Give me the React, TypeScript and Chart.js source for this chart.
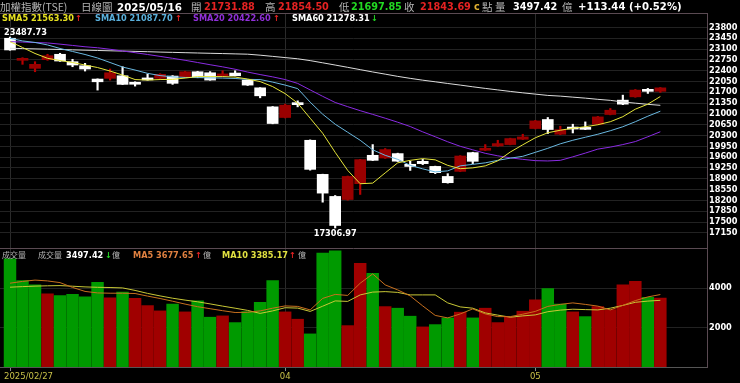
import React, { useEffect, useRef } from 'react';
import { Chart, registerables } from 'chart.js';

Chart.register(...registerables);

// ---------- data ----------
const LAST_DATE = '2025/05/16';
const DATE_TICKS = [0, 22, 42];
const DATE_LABELS = ['2025/02/27', '04', '05'];
const PRICE_TICKS = [17150, 17500, 17850, 18200, 18550, 18900, 19250, 19600, 19950, 20300, 20650, 21000, 21350, 21700, 22050, 22400, 22750, 23100, 23450, 23800];
const VOL_TICKS = [2000, 4000];

const OPEN = [23449, 22735, 22475, 22755, 22930, 22690, 22560, 22128, 22151, 22235, 21990, 22130, 22151, 22225, 22203, 22365, 22332, 22230, 22323, 22095, 21845, 21229, 20884, 21360, 20147, 19044, 18330, 18230, 18742, 19661, 19573, 19716, 19370, 19466, 19302, 18977, 19141, 19748, 19823, 19963, 20008, 20180, 20527, 20819, 20342, 20570, 20560, 20666, 20981, 21446, 21553, 21771, 21731.88];
const HIGH = [23487.73, 22819, 22690, 22930, 22962, 22768, 22638, 22135, 22453, 22527, 22040, 22290, 22300, 22240, 22380, 22380, 22370, 22397, 22397, 22100, 21850, 21240, 21316, 21424, 20160, 19050, 18360, 18990, 19530, 20008, 19880, 19730, 19470, 19530, 19310, 19067, 19650, 19760, 20008, 20147, 20215, 20342, 20790, 20884, 20602, 20667, 20742, 20920, 21176, 21608, 21790, 21826, 21854.5];
const LOW = [23060, 22605, 22365, 22735, 22700, 22527, 22388, 21771, 22095, 21950, 21900, 22090, 22140, 21956, 22190, 22170, 22090, 22203, 22230, 21920, 21521, 20680, 20870, 21229, 19180, 18144, 17306.97, 18210, 18394, 19490, 19560, 19460, 19172, 19360, 19067, 18760, 19130, 19391, 19810, 19950, 20000, 20170, 20515, 20365, 20330, 20384, 20490, 20650, 20970, 21300, 21540, 21663, 21697.85];
const CLOSE = [23070, 22768, 22605, 22884, 22712, 22583, 22453, 22040, 22332, 21956, 21960, 22100, 22281, 21990, 22365, 22183, 22095, 22260, 22235, 21933, 21586, 20690, 21284, 21300, 19206, 18437, 17390, 18977, 19521, 19498, 19846, 19470, 19300, 19391, 19099, 18774, 19638, 19466, 19878, 20040, 20203, 20255, 20774, 20495, 20490, 20510, 20500, 20904, 21120, 21316, 21771, 21730.25, 21843.69];

const SMA5 = [23339, 23151, 22956, 22800, 22728, 22664, 22582, 22501, 22388, 22258, 22112, 22095, 22112, 22118, 22160, 22209, 22209, 22209, 22193, 22128, 22047, 21884, 21657, 21349, 20861, 20374, 19757, 19173, 18741, 18761, 19092, 19417, 19498, 19553, 19514, 19335, 19228, 19254, 19319, 19482, 19767, 20001, 20228, 20391, 20472, 20537, 20585, 20650, 20748, 20910, 21154, 21316, 21563.3];
const SMA10 = [23449, 23362, 23313, 23232, 23118, 23021, 22923, 22810, 22664, 22517, 22420, 22313, 22241, 22199, 22180, 22176, 22167, 22160, 22147, 22118, 22112, 22030, 21933, 21819, 21381, 20991, 20667, 20407, 20147, 19839, 19660, 19530, 19336, 19222, 19124, 19157, 19319, 19368, 19417, 19498, 19569, 19628, 19757, 19887, 20033, 20147, 20245, 20342, 20456, 20585, 20748, 20926, 21087.7];
const SMA20 = [23339, 23326, 23310, 23297, 23258, 23216, 23173, 23141, 23092, 23037, 22982, 22923, 22862, 22800, 22735, 22664, 22592, 22524, 22446, 22355, 22274, 22199, 22112, 21988, 21777, 21569, 21371, 21235, 21105, 20985, 20861, 20732, 20592, 20420, 20261, 20098, 19952, 19839, 19725, 19644, 19579, 19530, 19488, 19478, 19498, 19611, 19732, 19861, 19926, 20008, 20105, 20261, 20422.6];
const SMA60 = [23125, 23115, 23105, 23095, 23086, 23073, 23063, 23053, 23043, 23034, 23024, 23014, 23001, 22992, 22982, 22972, 22962, 22953, 22943, 22933, 22901, 22862, 22823, 22784, 22725, 22654, 22582, 22508, 22433, 22358, 22287, 22215, 22151, 22092, 22040, 21985, 21933, 21878, 21826, 21777, 21728, 21683, 21641, 21599, 21576, 21543, 21511, 21472, 21439, 21387, 21348, 21310, 21278.31];

const VOLUME = [5487, 4386, 4167, 3711, 3624, 3695, 3558, 4304, 3508, 3797, 3492, 3117, 2848, 3188, 2797, 3355, 2528, 2594, 2254, 2812, 3289, 4386, 2797, 2426, 1680, 5777, 5893, 2101, 5269, 4761, 3066, 2985, 2579, 2035, 2152, 2492, 2782, 2492, 2985, 2254, 2528, 2832, 3406, 3980, 3188, 2797, 2558, 3066, 2914, 4167, 4355, 3543, 3497.42];
const VOL_UP = [0, 0, 0, 1, 0, 0, 0, 0, 1, 0, 1, 1, 1, 0, 1, 0, 0, 1, 0, 0, 0, 0, 1, 1, 0, 0, 0, 1, 1, 0, 1, 0, 0, 1, 0, 0, 1, 0, 1, 1, 1, 1, 1, 0, 0, 1, 0, 1, 1, 1, 1, 0, 1];
const VMA5 = [4254, 4345, 4411, 4370, 4284, 4040, 3837, 3761, 3746, 3746, 3731, 3599, 3477, 3340, 3193, 3061, 2959, 2858, 2766, 2777, 2848, 2985, 3101, 3076, 2898, 3482, 3685, 3634, 4254, 4726, 4167, 3914, 3609, 3101, 2619, 2492, 2695, 2949, 2695, 2558, 2558, 2680, 2822, 3076, 3178, 3254, 3178, 3091, 2898, 3127, 3370, 3558, 3677.65];
const VMA10 = [4051, 4081, 4106, 4122, 4132, 4101, 4066, 4046, 4035, 4015, 3888, 3736, 3609, 3492, 3396, 3310, 3203, 3091, 2985, 2873, 2721, 2848, 3010, 2990, 2822, 3086, 3355, 3330, 3660, 3802, 3827, 3787, 3660, 3660, 3660, 3254, 3051, 2985, 2746, 2634, 2528, 2594, 2645, 2807, 2888, 2934, 2914, 2898, 2985, 3127, 3284, 3345, 3385.17];

// ---------- styling ----------
const RED_TXT = '#e42222';
const GREEN_TXT = '#22d822';
const GRAY_TXT = '#b4b4b4';
const NUM_FONT = '"DejaVu Sans", Verdana, sans-serif';
const CJK_FONT = '"Noto Sans CJK TC", "Noto Sans CJK SC", sans-serif';

const last = (a: number[]) => a[a.length - 1];
const prev = (a: number[]) => a[a.length - 2];
const arrowOf = (a: number[]) => (last(a) >= prev(a) ? '↑' : '↓');
const arrowColor = (a: number[]) => (last(a) >= prev(a) ? RED_TXT : GREEN_TXT);

type TxtProps = { x: number; cy: number; color: string; size: number; bold?: boolean; cjk?: boolean; children: React.ReactNode };
function Txt({ x, cy, color, size, bold, cjk, children }: TxtProps) {
  return (
    <span
      style={{
        position: 'absolute',
        left: x,
        top: cy - 7,
        lineHeight: '14px',
        height: 14,
        whiteSpace: 'nowrap',
        color,
        fontSize: size,
        fontWeight: bold ? 'bold' : 'normal',
        fontFamily: cjk ? CJK_FONT : NUM_FONT,
        zIndex: 2,
      }}
    >
      {children}
    </span>
  );
}

export default function App() {
  const priceRef = useRef<HTMLCanvasElement>(null);
  const volRef = useRef<HTMLCanvasElement>(null);

  useEffect(() => {
    if (!priceRef.current || !volRef.current) return;
    const idx = CLOSE.map((_, i) => i);
    const xMin = -0.8;
    const xMax = 55.73;
    const tickFont = { family: NUM_FONT, size: 8.2, weight: 'bold' as const };

    const frameLine = {
      id: 'frameLine',
      afterDraw(chart: any) {
        const { ctx, chartArea } = chart;
        ctx.save();
        ctx.strokeStyle = '#5a4a52';
        ctx.lineWidth = 1;
        const y = Math.round(chartArea.top) + 0.5;
        ctx.beginPath();
        ctx.moveTo(0, y);
        ctx.lineTo(chartArea.right, y);
        ctx.stroke();
        ctx.restore();
      },
    };

    const extremes = {
      id: 'extremes',
      afterDatasetsDraw(chart: any) {
        const { ctx, chartArea, scales } = chart;
        let hi = 0;
        let lo = 0;
        for (let i = 1; i < HIGH.length; i++) {
          if (HIGH[i] > HIGH[hi]) hi = i;
          if (LOW[i] < LOW[lo]) lo = i;
        }
        ctx.save();
        ctx.font = `bold 8.2px ${NUM_FONT}`;
        ctx.fillStyle = '#ffffff';
        ctx.textBaseline = 'alphabetic';
        const t1 = HIGH[hi].toFixed(2);
        const w1 = ctx.measureText(t1).width;
        const x1 = Math.max(chartArea.left + 4, scales.x.getPixelForValue(hi) - w1 / 2);
        ctx.fillText(t1, x1, scales.y.getPixelForValue(HIGH[hi]) - 1.7);
        const t2 = LOW[lo].toFixed(2);
        const w2 = ctx.measureText(t2).width;
        ctx.fillText(t2, scales.x.getPixelForValue(lo) - w2 / 2, scales.y.getPixelForValue(LOW[lo]) + 8.3);
        ctx.restore();
      },
    };

    const dateLabels = {
      id: 'dateLabels',
      afterDraw(chart: any) {
        const { ctx, chartArea, scales } = chart;
        ctx.save();
        ctx.font = `8.5px ${NUM_FONT}`;
        ctx.fillStyle = '#c8c048';
        ctx.textBaseline = 'middle';
        DATE_TICKS.forEach((t, k) => {
          const text = DATE_LABELS[k];
          const w = ctx.measureText(text).width;
          const px = scales.x.getPixelForValue(t);
          const tx = Math.max(chartArea.left + 4, px - w / 2);
          ctx.fillText(text, tx, chartArea.bottom + 10);
        });
        ctx.restore();
      },
    };

    const lineDs = (label: string, values: number[], color: string) => ({
      type: 'line' as const,
      label,
      data: idx.map((i) => ({ x: i, y: values[i] })),
      borderColor: color,
      borderWidth: 1,
      pointRadius: 0,
      tension: 0,
      order: 0,
    });

    const up = idx.map((i) => CLOSE[i] >= OPEN[i]);

    const c1 = new Chart(priceRef.current, {
      type: 'bar',
      data: {
        datasets: [
          lineDs('SMA5', SMA5, '#e6e63a'),
          lineDs('SMA10', SMA10, '#6ab8e0'),
          lineDs('SMA20', SMA20, '#8a2be2'),
          lineDs('SMA60', SMA60, '#dcdcdc'),
          {
            type: 'bar',
            label: 'body',
            data: idx.map((i) => ({ x: i, y: [OPEN[i], CLOSE[i]] })),
            backgroundColor: idx.map((i) => (up[i] ? '#9a0000' : '#ffffff')),
            barThickness: 11,
            minBarLength: 2,
            grouped: false,
            borderWidth: 0,
            order: 1,
          },
          {
            type: 'bar',
            label: 'wick',
            data: idx.map((i) => ({ x: i, y: [LOW[i], HIGH[i]] })),
            backgroundColor: idx.map((i) => (up[i] ? '#b80000' : '#ffffff')),
            barThickness: 1.5,
            grouped: false,
            borderWidth: 0,
            order: 2,
          },
        ] as any,
      },
      options: {
        animation: false,
        responsive: false,
        devicePixelRatio: 1,
        layout: { padding: { left: 0, right: 0, top: 13, bottom: 0 } },
        plugins: { legend: { display: false }, tooltip: { enabled: false } },
        scales: {
          x: {
            type: 'linear',
            min: xMin,
            max: xMax,
            offset: false,
            afterBuildTicks: (s: any) => {
              s.ticks = DATE_TICKS.map((v) => ({ value: v }));
            },
            afterFit: (s: any) => {
              s.height = 0;
              s.paddingLeft = 0;
              s.paddingRight = 0;
            },
            ticks: { display: false },
            grid: { color: '#2a2a2a', drawTicks: false, offset: false },
            border: { display: false },
          },
          y: {
            position: 'right',
            min: 16661,
            max: 24266,
            afterBuildTicks: (s: any) => {
              s.ticks = PRICE_TICKS.map((v) => ({ value: v }));
            },
            afterFit: (s: any) => {
              s.width = 33;
              s.paddingTop = 0;
              s.paddingBottom = 0;
            },
            ticks: { color: '#ffffff', font: tickFont, padding: 2, autoSkip: false, callback: (v: any) => String(v) },
            grid: { color: '#222222', drawTicks: false },
            border: { display: true, color: '#5a4a52' },
          },
        },
      } as any,
      plugins: [frameLine, extremes],
    });

    const c2 = new Chart(volRef.current, {
      type: 'bar',
      data: {
        datasets: [
          lineDs('MA5', VMA5, '#c8701e'),
          lineDs('MA10', VMA10, '#c8c836'),
          {
            type: 'bar',
            label: 'volume',
            data: idx.map((i) => ({ x: i, y: VOLUME[i] })),
            backgroundColor: idx.map((i) => (VOL_UP[i] ? '#a00000' : '#009a00')),
            barThickness: 11.8,
            grouped: false,
            borderWidth: 0,
            order: 1,
          },
        ] as any,
      },
      options: {
        animation: false,
        responsive: false,
        devicePixelRatio: 1,
        layout: { padding: { left: 0, right: 0, top: 8, bottom: 0 } },
        plugins: { legend: { display: false }, tooltip: { enabled: false } },
        scales: {
          x: {
            type: 'linear',
            min: xMin,
            max: xMax,
            offset: false,
            afterBuildTicks: (s: any) => {
              s.ticks = DATE_TICKS.map((v) => ({ value: v }));
            },
            afterFit: (s: any) => {
              s.height = 16;
              s.paddingLeft = 0;
              s.paddingRight = 0;
            },
            ticks: { display: false },
            grid: { color: '#2a2a2a', drawTicks: true, tickLength: 4, tickColor: '#888888', offset: false },
            border: { display: true, color: '#555555' },
          },
          y: {
            position: 'right',
            min: 0,
            max: 6041,
            afterBuildTicks: (s: any) => {
              s.ticks = VOL_TICKS.map((v) => ({ value: v }));
            },
            afterFit: (s: any) => {
              s.width = 33;
              s.paddingTop = 0;
              s.paddingBottom = 0;
            },
            ticks: { color: '#ffffff', font: tickFont, padding: 2, autoSkip: false, callback: (v: any) => String(v) },
            grid: { color: '#222222', drawTicks: false },
            border: { display: true, color: '#5a4a52' },
          },
        },
      } as any,
      plugins: [frameLine, dateLabels],
    });

    return () => {
      c1.destroy();
      c2.destroy();
    };
  }, []);

  const n = CLOSE.length;
  const change = CLOSE[n - 1] - CLOSE[n - 2];
  const pct = (change / CLOSE[n - 2]) * 100;
  const sign = change >= 0 ? '+' : '-';
  const changeText = `${sign}${Math.abs(change).toFixed(2)} (${sign}${Math.abs(pct).toFixed(2)}%)`;

  const r1 = 6.5;
  const r2 = 17.8;
  const r3 = 254.5;
  const P = 9.7; // header price font size

  return (
    <div style={{ position: 'fixed', left: 0, top: 0, width: 740, height: 383, background: '#000', overflow: 'hidden' }}>
      <canvas ref={priceRef} width={740} height={248} style={{ position: 'absolute', left: 0, top: 0, width: 740, height: 248 }} />
      <canvas ref={volRef} width={740} height={143} style={{ position: 'absolute', left: 0, top: 240, width: 740, height: 143 }} />

      {/* header row 1 */}
      <Txt x={0} cy={r1} color={GRAY_TXT} size={10.5} cjk>加權指數(TSE)</Txt>
      <Txt x={81} cy={r1} color={GRAY_TXT} size={10.5} cjk>日線圖</Txt>
      <Txt x={117} cy={r1} color="#ffffff" size={10.3} bold>{LAST_DATE}</Txt>
      <Txt x={191} cy={r1} color={GRAY_TXT} size={10.5} cjk>開</Txt>
      <Txt x={204} cy={r1} color={RED_TXT} size={P} bold>{OPEN[n - 1].toFixed(2)}</Txt>
      <Txt x={265} cy={r1} color={GRAY_TXT} size={10.5} cjk>高</Txt>
      <Txt x={278} cy={r1} color={RED_TXT} size={P} bold>{HIGH[n - 1].toFixed(2)}</Txt>
      <Txt x={339} cy={r1} color={GRAY_TXT} size={10.5} cjk>低</Txt>
      <Txt x={351} cy={r1} color={GREEN_TXT} size={P} bold>{LOW[n - 1].toFixed(2)}</Txt>
      <Txt x={404} cy={r1} color={GRAY_TXT} size={10.5} cjk>收</Txt>
      <Txt x={420} cy={r1} color={RED_TXT} size={P} bold>{CLOSE[n - 1].toFixed(2)}</Txt>
      <Txt x={474} cy={r1} color="#e0b030" size={P} bold>c</Txt>
      <Txt x={482} cy={r1} color={GRAY_TXT} size={10.5} cjk>點</Txt>
      <Txt x={495} cy={r1} color={GRAY_TXT} size={10.5} cjk>量</Txt>
      <Txt x={513} cy={r1} color="#ffffff" size={P} bold>{VOLUME[n - 1].toFixed(2)}</Txt>
      <Txt x={562} cy={r1} color={GRAY_TXT} size={10.5} cjk>億</Txt>
      <Txt x={578} cy={r1} color="#ffffff" size={10.1} bold>{changeText}</Txt>

      {/* header row 2: moving averages */}
      <Txt x={2} cy={r2} color="#e6e020" size={8.2} bold>{`SMA5 ${last(SMA5).toFixed(2)}`}</Txt>
      <Txt x={75} cy={r2} color={arrowColor(SMA5)} size={8.2} bold>{arrowOf(SMA5)}</Txt>
      <Txt x={95} cy={r2} color="#5ab0dc" size={8.2} bold>{`SMA10 ${last(SMA10).toFixed(2)}`}</Txt>
      <Txt x={175} cy={r2} color={arrowColor(SMA10)} size={8.2} bold>{arrowOf(SMA10)}</Txt>
      <Txt x={193} cy={r2} color="#9030d8" size={8.2} bold>{`SMA20 ${last(SMA20).toFixed(2)}`}</Txt>
      <Txt x={273} cy={r2} color={arrowColor(SMA20)} size={8.2} bold>{arrowOf(SMA20)}</Txt>
      <Txt x={292} cy={r2} color="#ffffff" size={8.2} bold>{`SMA60 ${last(SMA60).toFixed(2)}`}</Txt>
      <Txt x={371} cy={r2} color={arrowColor(SMA60)} size={8.2} bold>{arrowOf(SMA60)}</Txt>

      {/* volume header */}
      <Txt x={2} cy={r3} color={GRAY_TXT} size={8} cjk>成交量</Txt>
      <Txt x={38} cy={r3} color={GRAY_TXT} size={8} cjk>成交量</Txt>
      <Txt x={66} cy={r3} color="#ffffff" size={8.2} bold>{last(VOLUME).toFixed(2)}</Txt>
      <Txt x={105} cy={r3} color={arrowColor(VOLUME)} size={8.2} bold>{arrowOf(VOLUME)}</Txt>
      <Txt x={112} cy={r3} color={GRAY_TXT} size={8} cjk>億</Txt>
      <Txt x={133} cy={r3} color="#e08040" size={8.2} bold>{`MA5 ${last(VMA5).toFixed(2)}`}</Txt>
      <Txt x={195} cy={r3} color={arrowColor(VMA5)} size={8.2} bold>{arrowOf(VMA5)}</Txt>
      <Txt x={203} cy={r3} color={GRAY_TXT} size={8} cjk>億</Txt>
      <Txt x={222} cy={r3} color="#e0e040" size={8.2} bold>{`MA10 ${last(VMA10).toFixed(2)}`}</Txt>
      <Txt x={289} cy={r3} color={arrowColor(VMA10)} size={8.2} bold>{arrowOf(VMA10)}</Txt>
      <Txt x={298} cy={r3} color={GRAY_TXT} size={8} cjk>億</Txt>
    </div>
  );
}
